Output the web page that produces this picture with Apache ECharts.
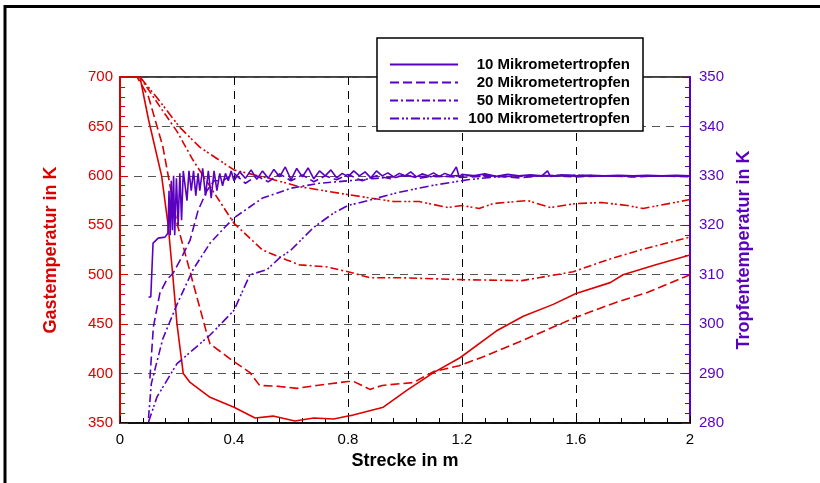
<!DOCTYPE html>
<html>
<head>
<meta charset="utf-8">
<script src="https://cdn.jsdelivr.net/npm/echarts@6/dist/echarts.min.js"></script>
<style>
  html, body { margin: 0; padding: 0; background: #fff; }
  #main { width: 820px; height: 483px; }
</style>
</head>
<body>
<div id="main"></div>
<script>
// Gastemperatur (linke Achse), [Strecke, K]
var gas10 = [[0,700],[0.07,700],[0.1,657],[0.146,600],[0.169,550],[0.185,500],[0.2,450],[0.222,400],[0.246,391],[0.316,376],[0.4,366],[0.474,355],[0.537,357],[0.614,352],[0.68,355],[0.75,354],[0.8,357],[0.818,358],[0.924,366],[1.006,383],[1.1,401],[1.193,416],[1.32,443],[1.415,458],[1.52,470],[1.6,481],[1.72,492],[1.765,500],[1.88,510],[2,520]];
var gas20 = [[0,700],[0.06,700],[0.1,680],[0.15,630],[0.2,552],[0.257,491],[0.305,440],[0.316,430],[0.4,412],[0.456,401],[0.49,388],[0.56,387],[0.62,385],[0.69,388],[0.8,392],[0.82,392],[0.877,384],[0.92,388],[1.03,391],[1.1,402],[1.19,408],[1.275,417],[1.4,432],[1.52,447],[1.6,457],[1.74,472],[1.85,482],[2,500]];
var gas50 = [[0,700],[0.07,700],[0.14,670],[0.2,645],[0.256,616],[0.33,583],[0.4,552],[0.5,525],[0.585,515],[0.63,510],[0.725,508],[0.8,503],[0.877,497],[0.98,497],[1.2,495],[1.41,494],[1.47,497],[1.59,503],[1.71,515],[1.825,525],[2,538]];
var gas100 = [[0,700],[0.07,700],[0.13,679],[0.21,649],[0.28,629],[0.4,606],[0.515,598],[0.63,589],[0.8,581],[0.96,574],[1.05,574],[1.15,568],[1.2,570],[1.26,567],[1.31,572],[1.43,575],[1.51,568],[1.6,572],[1.69,573],[1.78,570],[1.835,567],[2,576]];

// Tropfentemperatur (rechte Achse), [Strecke, K]
var drop10 = [[0.1,305.5],[0.108,305.5],[0.116,316.4],[0.134,317.4],[0.158,317.6],[0.168,318.4],[0.172,327],[0.176,318],[0.18,329],[0.184,319],[0.188,330],[0.192,318],[0.198,329.5],[0.204,320],[0.21,330.5],[0.216,321],[0.222,331],[0.228,330.6],[0.235,325],[0.242,331],[0.25,327],[0.258,331],[0.266,326],[0.274,330.5],[0.28,327],[0.29,331.5],[0.3,326],[0.31,331],[0.32,325.5],[0.33,331],[0.34,327],[0.35,330.5],[0.36,328],[0.37,330.5],[0.38,329],[0.39,331],[0.4,329],[0.42,330.8],[0.44,329.5],[0.46,331.2],[0.48,329.3],[0.5,331],[0.52,329.5],[0.54,331.3],[0.56,329.8],[0.58,331.8],[0.6,329.2],[0.62,331.5],[0.64,329.8],[0.66,331.6],[0.68,329.4],[0.7,331],[0.72,330],[0.74,331.2],[0.76,329.6],[0.78,330.5],[0.8,329.8],[0.82,331],[0.84,330],[0.86,330.8],[0.88,329.6],[0.9,331],[0.92,330],[0.94,330.6],[0.96,329.8],[0.98,330.5],[1.0,330],[1.02,330.8],[1.04,329.8],[1.06,330.4],[1.08,330],[1.1,330.6],[1.12,329.9],[1.14,330.5],[1.16,330],[1.18,331.8],[1.19,329.8],[1.2,330.3],[1.24,330],[1.28,330.4],[1.32,329.9],[1.36,330.3],[1.4,330],[1.44,330.2],[1.48,330],[1.5,331],[1.51,329.9],[1.55,330.2],[1.6,330],[1.65,330.1],[1.7,330],[1.75,330.1],[1.8,330],[1.85,330.1],[1.9,330],[1.95,330.1],[2,330]];
var drop20 = [[0.105,289],[0.117,299.4],[0.14,306.3],[0.164,309],[0.186,310.3],[0.217,313.6],[0.246,317],[0.274,323],[0.305,327],[0.33,329],[0.36,329],[0.4,330.5],[0.44,328.5],[0.48,330],[0.52,328.8],[0.56,330.4],[0.6,329],[0.64,330.2],[0.68,328.8],[0.72,330],[0.76,329.2],[0.8,330.3],[0.85,329],[0.9,330],[0.95,329.4],[1.0,330.2],[1.05,329.5],[1.1,330],[1.2,329.7],[1.3,330],[1.4,329.6],[1.5,330.1],[1.6,329.8],[1.7,330],[1.8,329.8],[1.9,330],[2,329.8]];
var drop50 = [[0.1,281],[0.11,288],[0.15,297],[0.2,304],[0.256,311],[0.316,316.4],[0.368,319.6],[0.4,321.5],[0.45,323.5],[0.5,325.5],[0.55,326.5],[0.6,327.5],[0.7,328.5],[0.8,329],[0.9,329.5],[1.0,330],[1.1,329.8],[1.2,330.1],[1.4,329.9],[1.6,330.1],[1.8,329.9],[2,330]];
var drop100 = [[0.1,280.2],[0.13,285.3],[0.2,292],[0.316,297.8],[0.36,300.4],[0.4,302.8],[0.456,310],[0.515,311],[0.56,313.4],[0.6,315],[0.68,319.6],[0.75,322.5],[0.8,324],[0.87,325],[0.98,326.7],[1.1,328.1],[1.22,329.2],[1.3,329.7],[1.4,330],[1.6,330.1],[1.8,329.9],[2,330]];

var legendNames = ['10 Mikrometertropfen', '20 Mikrometertropfen', '50 Mikrometertropfen', '100 Mikrometertropfen'];

var red = '#dd0000';
var purple = '#5a00c0';
var dashes = ['solid', [9, 4], [8, 3, 2, 3], [9, 3, 2, 2, 2, 3]];

var myChart = echarts.init(document.getElementById('main'));

function line(name, data, axis, color, dash) {
    return {
        name: name,
        type: 'line',
        yAxisIndex: axis,
        data: data,
        symbol: 'none',
        smooth: false,
        animation: false,
        lineStyle: { color: color, width: 1.6, type: dash },
        itemStyle: { color: color }
    };
}

var option = {
    animation: false,
    grid: {
        left: 120, right: 130, top: 77, bottom: 60,
        show: true, borderColor: '#000', borderWidth: 1.5
    },
    legend: {
        data: legendNames,
        orient: 'vertical',
        left: 377, top: 38,
        backgroundColor: '#fff',
        borderColor: '#000',
        borderWidth: 1.5,
        padding: [19, 13, 5, 12],
        itemWidth: 68, itemHeight: 14, itemGap: 3,
        itemStyle: { opacity: 0 },
        formatter: function (n) { return '{r|' + n + '}'; },
        textStyle: {
            color: '#000',
            rich: { r: { width: 167, height: 14, lineHeight: 14, align: 'right', fontFamily: 'Arial', fontWeight: 'bold', fontSize: 15, color: '#000' } }
        }
    },
    graphic: [{
        type: 'rect', z: 100, silent: true,
        shape: { x: 5, y: 6.5, width: 900, height: 600 },
        style: { fill: 'none', stroke: '#000', lineWidth: 3 }
    }],
    xAxis: {
        type: 'value', min: 0, max: 2, interval: 0.4,
        name: 'Strecke in m', nameLocation: 'middle', nameGap: 29,
        nameTextStyle: { color: '#000', fontFamily: 'Arial', fontWeight: 'bold', fontSize: 18 },
        axisLine: { lineStyle: { color: '#000', width: 1.5 } },
        axisTick: { inside: true, length: 7, lineStyle: { color: '#000' } },
        minorTick: { show: true, splitNumber: 5, length: 5, lineStyle: { color: '#000' } },
        axisLabel: { color: '#000', fontFamily: 'Arial', fontSize: 15, margin: 9 },
        splitLine: { show: true, lineStyle: { color: '#000', type: [8, 6], width: 1 } }
    },
    yAxis: [{
        type: 'value', min: 350, max: 700, interval: 50, position: 'left',
        name: 'Gastemperatur in K', nameLocation: 'middle', nameGap: 60,
        nameTextStyle: { color: red, fontFamily: 'Arial', fontWeight: 'bold', fontSize: 18 },
        axisLine: { show: true, lineStyle: { color: red, width: 2 } },
        axisTick: { inside: true, length: 8, lineStyle: { color: red } },
        minorTick: { show: true, splitNumber: 5, length: 5, lineStyle: { color: red } },
        axisLabel: { color: red, fontFamily: 'Arial', fontSize: 15, margin: 7 },
        splitLine: { show: true, lineStyle: { color: '#555', type: [8, 6], width: 1 } }
    }, {
        type: 'value', min: 280, max: 350, interval: 10, position: 'right',
        name: 'Tropfentemperatur in K', nameLocation: 'middle', nameGap: 41,
        nameTextStyle: { color: purple, fontFamily: 'Arial', fontWeight: 'bold', fontSize: 18 },
        axisLine: { show: true, lineStyle: { color: purple, width: 2 } },
        axisTick: { inside: true, length: 8, lineStyle: { color: purple } },
        minorTick: { show: true, splitNumber: 5, length: 5, lineStyle: { color: purple } },
        axisLabel: { color: purple, fontFamily: 'Arial', fontSize: 15, margin: 9 },
        splitLine: { show: false }
    }],
    series: [
        line('gas10', gas10, 0, red, dashes[0]),
        line('gas20', gas20, 0, red, dashes[1]),
        line('gas50', gas50, 0, red, dashes[2]),
        line('gas100', gas100, 0, red, dashes[3]),
        line(legendNames[0], drop10, 1, purple, dashes[0]),
        line(legendNames[1], drop20, 1, purple, dashes[1]),
        line(legendNames[2], drop50, 1, purple, dashes[2]),
        line(legendNames[3], drop100, 1, purple, dashes[3])
    ]
};

myChart.setOption(option);
</script>
</body>
</html>
